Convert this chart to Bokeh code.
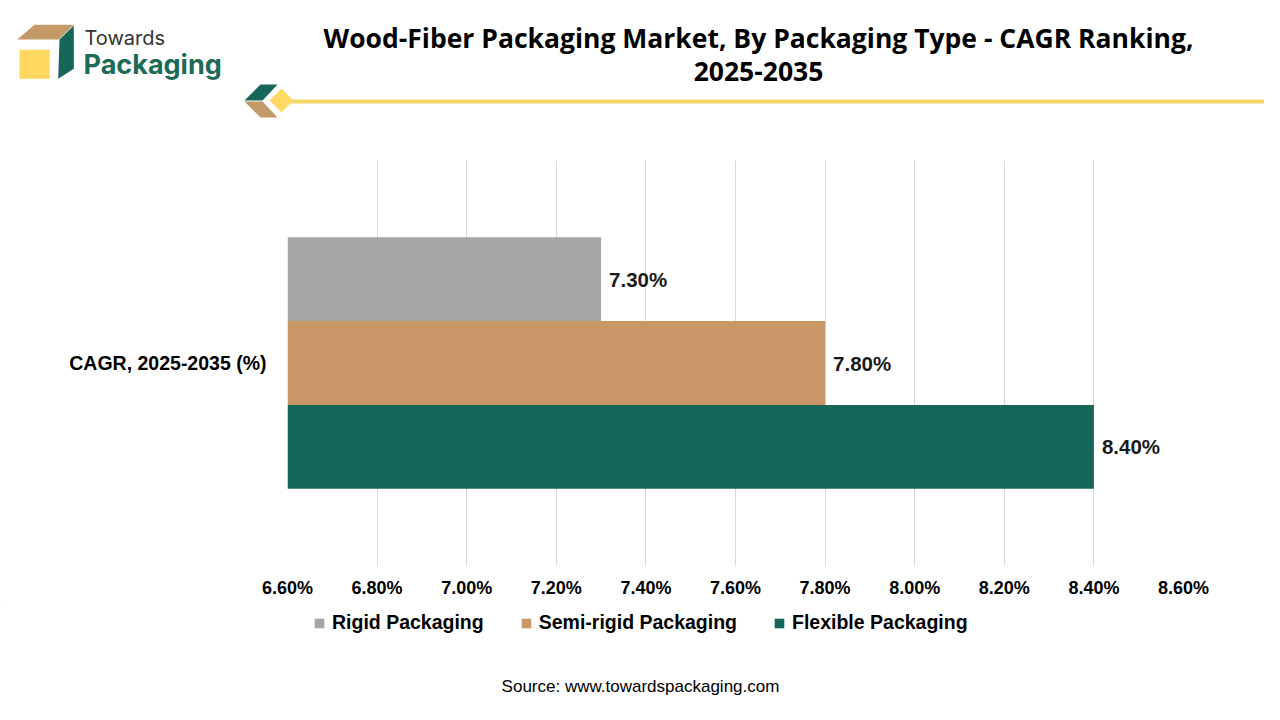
from bokeh.plotting import figure
from bokeh.models import (FactorRange, Range1d, FixedTicker, PrintfTickFormatter,
                          Legend, LegendItem, ColumnDataSource)
from bokeh.transform import dodge
from bokeh.layouts import column
from bokeh.core.properties import value
from bokeh.embed import file_html
from bokeh.resources import INLINE

# ---------------- data ----------------
title_lines = ["Wood-Fiber Packaging Market, By Packaging Type - CAGR Ranking,", "2025-2035"]
category = "CAGR, 2025-2035 (%)"
series = ["Rigid Packaging", "Semi-rigid Packaging", "Flexible Packaging"]
cagr = [7.30, 7.80, 8.40]
colors = ["#A6A6A6", "#C99766", "#17665A"]
x_ticks = [6.6, 6.8, 7.0, 7.2, 7.4, 7.6, 7.8, 8.0, 8.2, 8.4, 8.6]
source_text = "Source: www.towardspackaging.com"

FONT = "Liberation Sans"
W = 1264

# ---------------- header (canvas coordinates) ----------------
h = figure(width=W, height=160, x_range=Range1d(0, W), y_range=Range1d(160, 0),
           x_axis_type=None, y_axis_type=None, min_border=0,
           output_backend="svg", toolbar_location=None)
h.outline_line_color = None
h.grid.visible = False
h.frame_align = False

# logo
h.patch([16.7, 34, 73.3, 58.3], [39, 24.3, 24.3, 39], fill_color="#C39A68", line_color=None)
h.patch([59, 73.3, 73.3, 57.7], [39, 25, 68.3, 78.3], fill_color="#17665A", line_color=None)
h.patch([19, 49.3, 49.3, 19], [49.3, 49.3, 78.3, 78.3], fill_color="#FFD75E", line_color=None)
h.text([84], [37.5], text=["Towards"], text_font=value("Inter"), text_font_size="20px",
       text_color="#333333", text_baseline="alphabetic")
h.text([83], [63.5], text=["Packaging"], text_font=value("Inter"), text_font_size="27px",
       text_font_style="bold", text_color="#1B6B56", text_baseline="alphabetic")

# title
h.text([758, 758], [37, 71], text=title_lines, text_font=value("Open Sans"),
       text_font_size="26.5px", text_font_style="bold", text_color="#000000",
       text_align="center", text_baseline="middle")

# decoration
h.line([290, W], [101, 101], line_color="#F5D565", line_width=4)
h.patch([244, 260, 277, 262], [100, 84, 84, 100], fill_color="#17665A", line_color=None)
h.patch([244, 262, 277, 260], [101, 101, 117, 117], fill_color="#C39A68", line_color=None)
h.patch([281, 293, 281, 269], [88, 100, 112, 100], fill_color="#FFD966", line_color=None)

# ---------------- main chart ----------------
p = figure(width=W, height=445, y_range=FactorRange(factors=[category], range_padding=0),
           x_range=Range1d(6.6, 8.6), output_backend="svg", toolbar_location=None,
           min_border_left=287, min_border_right=81, min_border_top=0, min_border_bottom=40)
p.outline_line_color = None
p.frame_align = False

offsets = [0.207, 0.0, -0.207]
bar_h = 0.207
for name, v, c, off in zip(series, cagr, colors, offsets):
    src = ColumnDataSource(dict(cat=[category], val=[v], label=[f"{v:.2f}%"]))
    p.hbar(y=dodge("cat", off, range=p.y_range), left=6.6, right="val", height=bar_h,
           source=src, fill_color=c, line_color=None)
    p.text(x="val", y=dodge("cat", off, range=p.y_range), text="label", source=src,
           x_offset=8, text_baseline="middle", text_align="left",
           text_font=value(FONT), text_font_style="bold", text_font_size="20.5px",
           text_color="#1A1A1A")

p.xaxis.ticker = FixedTicker(ticks=x_ticks)
p.xaxis.formatter = PrintfTickFormatter(format="%.2f%%")
p.xaxis.axis_line_color = None
p.xaxis.major_tick_line_color = None
p.xaxis.minor_tick_line_color = None
p.xaxis.major_label_standoff = 6
p.xaxis.major_label_text_font = FONT
p.xaxis.major_label_text_font_style = "bold"
p.xaxis.major_label_text_font_size = "18px"
p.xaxis.major_label_text_color = "#000000"

p.yaxis.axis_line_color = None
p.yaxis.major_tick_line_color = None
p.yaxis.minor_tick_line_color = None
p.yaxis.major_label_standoff = 15
p.yaxis.major_label_text_font = FONT
p.yaxis.major_label_text_font_style = "bold"
p.yaxis.major_label_text_font_size = "19.5px"
p.yaxis.major_label_text_color = "#000000"

p.xgrid.ticker = FixedTicker(ticks=x_ticks)
p.xgrid.grid_line_color = "#D9D9D9"
p.ygrid.grid_line_color = None

# ---------------- footer: legend + source ----------------
f = figure(width=W, height=99, x_range=Range1d(0, W), y_range=Range1d(704, 605),
           x_axis_type=None, y_axis_type=None, min_border=0,
           output_backend="svg", toolbar_location=None)
f.outline_line_color = None
f.grid.visible = False
f.frame_align = False

items = []
for name, c in zip(series, colors):
    # legend swatch renderer: a zero-size bar outside the view, only its style feeds the legend
    sw = ColumnDataSource(dict(y=[-1000], left=[-1000], right=[-1000]))
    r = f.hbar(y="y", left="left", right="right", height=0, source=sw,
               fill_color=c, line_color=None)
    items.append(LegendItem(label=name, renderers=[r]))

legend = Legend(items=items, location=(313, 70), orientation="horizontal",
                glyph_width=12, glyph_height=12, label_height=12, label_standoff=7,
                spacing=36, padding=0, margin=0, border_line_color=None,
                background_fill_alpha=0, label_text_font=FONT,
                label_text_font_style="bold", label_text_font_size="19.5px",
                label_text_color="#000000")
f.add_layout(legend, "center")

f.text([640], [686], text=[source_text], text_font=value(FONT), text_font_size="17px",
       text_color="#000000", text_align="center", text_baseline="middle")

layout = column(h, p, f, spacing=0)
open("out.html", "w").write(file_html(layout, INLINE))
